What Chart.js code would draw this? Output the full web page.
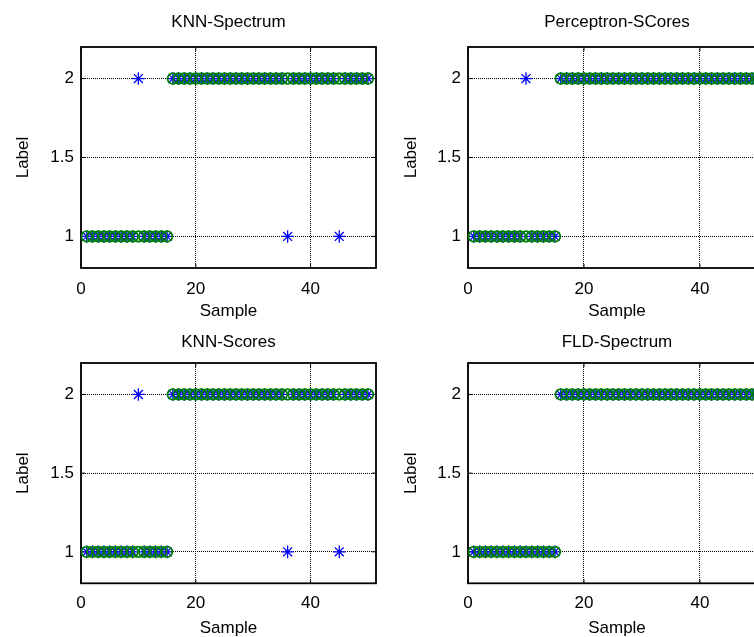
<!DOCTYPE html>
<html><head><meta charset="utf-8">
<script src="https://cdn.jsdelivr.net/npm/chart.js@4.4.0/dist/chart.umd.min.js"></script>
<style>
html,body{margin:0;padding:0;background:#fff;overflow:hidden;width:754px;height:637px;position:relative;}
.cell{position:absolute;}
canvas{display:block;}
</style></head><body>
<div class="cell" style="left:0;top:0"><canvas id="c1" width="388" height="322"></canvas></div>
<div class="cell" style="left:388px;top:0"><canvas id="c2" width="400" height="322"></canvas></div>
<div class="cell" style="left:0;top:318px"><canvas id="c3" width="388" height="321"></canvas></div>
<div class="cell" style="left:388px;top:318px"><canvas id="c4" width="400" height="321"></canvas></div>
<script>
const samples = [1,2,3,4,5,6,7,8,9,10,11,12,13,14,15,16,17,18,19,20,21,22,23,24,25,26,27,28,29,30,31,32,33,34,35,36,37,38,39,40,41,42,43,44,45,46,47,48,49,50];
const trueLabels = [1,1,1,1,1,1,1,1,1,1,1,1,1,1,1,2,2,2,2,2,2,2,2,2,2,2,2,2,2,2,2,2,2,2,2,2,2,2,2,2,2,2,2,2,2,2,2,2,2,2];
const predKnnSpectrum = [1,1,1,1,1,1,1,1,1,2,1,1,1,1,1,2,2,2,2,2,2,2,2,2,2,2,2,2,2,2,2,2,2,2,2,1,2,2,2,2,2,2,2,2,1,2,2,2,2,2];
const predPerceptronScores = [1,1,1,1,1,1,1,1,1,2,1,1,1,1,1,2,2,2,2,2,2,2,2,2,2,2,2,2,2,2,2,2,2,2,2,2,2,2,2,2,2,2,2,2,2,2,2,2,2,2];
const predKnnScores = [1,1,1,1,1,1,1,1,1,2,1,1,1,1,1,2,2,2,2,2,2,2,2,2,2,2,2,2,2,2,2,2,2,2,2,1,2,2,2,2,2,2,2,2,1,2,2,2,2,2];
const predFldSpectrum = [1,1,1,1,1,1,1,1,1,1,1,1,1,1,1,2,2,2,2,2,2,2,2,2,2,2,2,2,2,2,2,2,2,2,2,2,2,2,2,2,2,2,2,2,2,2,2,2,2,2];
const titles = ['KNN-Spectrum','Perceptron-SCores','KNN-Scores','FLD-Spectrum'];
const xTicks = [0,20,40];
const xTickLabels = ['0','20','40'];
const yTicks = [1,1.5,2];
const yTickLabels = ['1','1.5','2'];
const xMin = 0, xMax = 51.4, yMin = 0.8, yMax = 2.2;

const FONT = "'Liberation Sans', Arial, sans-serif";
const font = {family: FONT, size: 17, weight: 'normal'};

const boxPlugin = {
  id: 'box',
  beforeDatasetsDraw(chart) {
    const {ctx, chartArea: a, scales} = chart;
    ctx.save();
    ctx.strokeStyle = '#000';
    ctx.lineWidth = 1.8;
    ctx.strokeRect(a.left, a.top, a.right - a.left, a.bottom - a.top);
    ctx.lineWidth = 1;
    ctx.beginPath();
    const tl = 4;
    scales.x.ticks.forEach(t => {
      const px = scales.x.getPixelForValue(t.value);
      ctx.moveTo(px, a.bottom); ctx.lineTo(px, a.bottom - tl);
      ctx.moveTo(px, a.top); ctx.lineTo(px, a.top + tl);
    });
    scales.y.ticks.forEach(t => {
      const py = scales.y.getPixelForValue(t.value);
      ctx.moveTo(a.left, py); ctx.lineTo(a.left + tl, py);
      ctx.moveTo(a.right, py); ctx.lineTo(a.right - tl, py);
    });
    ctx.stroke();
    ctx.restore();
  }
};

function makeChart(id, titleText, preds, geo) {
  new Chart(document.getElementById(id), {
    type: 'scatter',
    data: {
      datasets: [
        {
          label: 'True',
          data: samples.map((s, i) => ({x: s, y: trueLabels[i]})),
          pointStyle: 'circle', pointRadius: 5.3, borderColor: '#008000', backgroundColor: 'rgba(0,0,0,0)', borderWidth: 1.8
        },
        {
          label: 'Predicted',
          data: samples.map((s, i) => ({x: s, y: preds[i]})),
          pointStyle: 'star', pointRadius: 6.3, borderColor: '#0000ff', backgroundColor: '#0000ff', borderWidth: 1.3
        }
      ]
    },
    options: {
      responsive: false, animation: false, devicePixelRatio: 1,
      layout: {padding: {left: 0, top: 0, right: geo.padRight, bottom: 0}},
      plugins: {
        legend: {display: false},
        tooltip: {enabled: false},
        title: {display: true, text: titleText, fullSize: false, color: '#000', font: font,
                padding: {top: geo.titleTop, bottom: geo.titleBottom}}
      },
      scales: {
        x: {
          type: 'linear', min: xMin, max: xMax,
          afterBuildTicks: s => { s.ticks = xTicks.map(v => ({value: v})); },
          afterFit: s => { s.height = geo.xAxisHeight; },
          ticks: {color: '#000', font: font, padding: geo.xTickPad, maxRotation: 0, autoSkip: false,
                  callback: (v, i) => xTickLabels[i]},
          grid: {color: '#000', lineWidth: 1, drawTicks: false},
          border: {display: false, dash: [1, 1]},
          title: {display: true, text: 'Sample', color: '#000', font: font, padding: {top: 0, bottom: 0}}
        },
        y: {
          type: 'linear', min: yMin, max: yMax,
          afterBuildTicks: s => { s.ticks = yTicks.map(v => ({value: v})); },
          afterFit: s => { s.width = geo.yAxisWidth; },
          ticks: {color: '#000', font: font, padding: 7, autoSkip: false,
                  callback: (v, i) => yTickLabels[i]},
          grid: {color: '#000', lineWidth: 1, drawTicks: false},
          border: {display: false, dash: [1, 1]},
          title: {display: true, text: 'Label', color: '#000', font: font, padding: {top: 12.8, bottom: 0}}
        }
      }
    },
    plugins: [boxPlugin]
  });
}

const topRow = {xAxisHeight: 54, titleTop: 12.3, titleBottom: 14.3, xTickPad: 11};
const botRow = {xAxisHeight: 55.7, titleTop: 13.8, titleBottom: 10.8, xTickPad: 9.5};
makeChart('c1', titles[0], predKnnSpectrum, Object.assign({padRight: 12, yAxisWidth: 81}, topRow));
makeChart('c2', titles[1], predPerceptronScores, Object.assign({padRight: 22, yAxisWidth: 80}, topRow));
makeChart('c3', titles[2], predKnnScores, Object.assign({padRight: 12, yAxisWidth: 81}, botRow));
makeChart('c4', titles[3], predFldSpectrum, Object.assign({padRight: 22, yAxisWidth: 80}, botRow));
</script>
</body></html>
